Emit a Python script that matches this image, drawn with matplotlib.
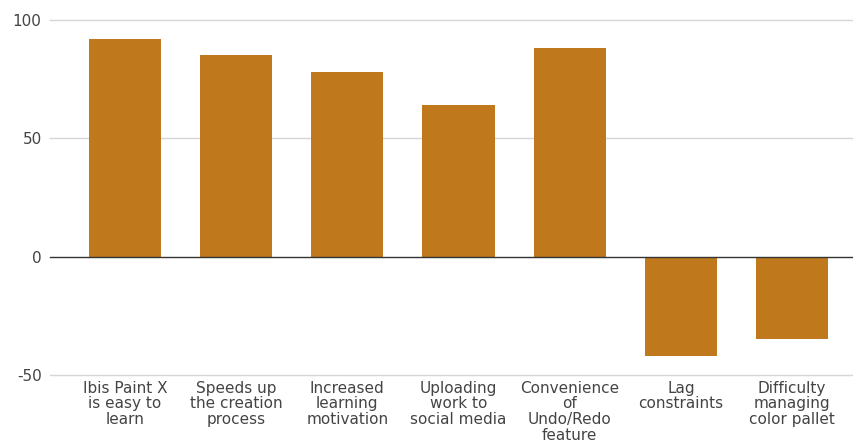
import matplotlib
matplotlib.use("Agg")
import matplotlib.pyplot as plt

plt.rcParams["font.family"] = ["DejaVu Sans"]

categories = ["Ibis Paint X\nis easy to\nlearn", "Speeds up\nthe creation\nprocess",
              "Increased\nlearning\nmotivation", "Uploading\nwork to\nsocial media",
              "Convenience\nof\nUndo/Redo\nfeature", "Lag\nconstraints",
              "Difficulty\nmanaging\ncolor pallet"]
values = [92, 85, 78, 64, 88, -42, -35]
yticks = [-50, 0, 50, 100]

fig = plt.figure(figsize=(8.54, 4.43), dpi=100)
ax = fig.add_axes([50/854, 1-375/443, 804/854, 355/443])
x = list(range(len(values)))
ax.bar(x, values, width=0.65, color="#BF781C", zorder=3)
ax.set_ylim(-50, 100)
ax.set_xlim(-0.674, 6.556)
for t in yticks:
    if t == 0:
        ax.axhline(t, color="#333333", lw=1.0, zorder=4, clip_on=False)
    else:
        ax.axhline(t, color="#d6d6d6", lw=1.0, zorder=1, clip_on=False)
ax.set_yticks(yticks)
ax.set_yticklabels([str(t) for t in yticks], fontsize=11, color="#444444")
ax.set_xticks(x)
ax.set_xticklabels(categories, fontsize=11, color="#444444", linespacing=1.07, va="top")
ax.tick_params(axis="both", length=0)
ax.tick_params(axis="x", pad=4)
ax.tick_params(axis="y", pad=6)
for s in ax.spines.values():
    s.set_visible(False)
fig.savefig("out.png", dpi=100)
